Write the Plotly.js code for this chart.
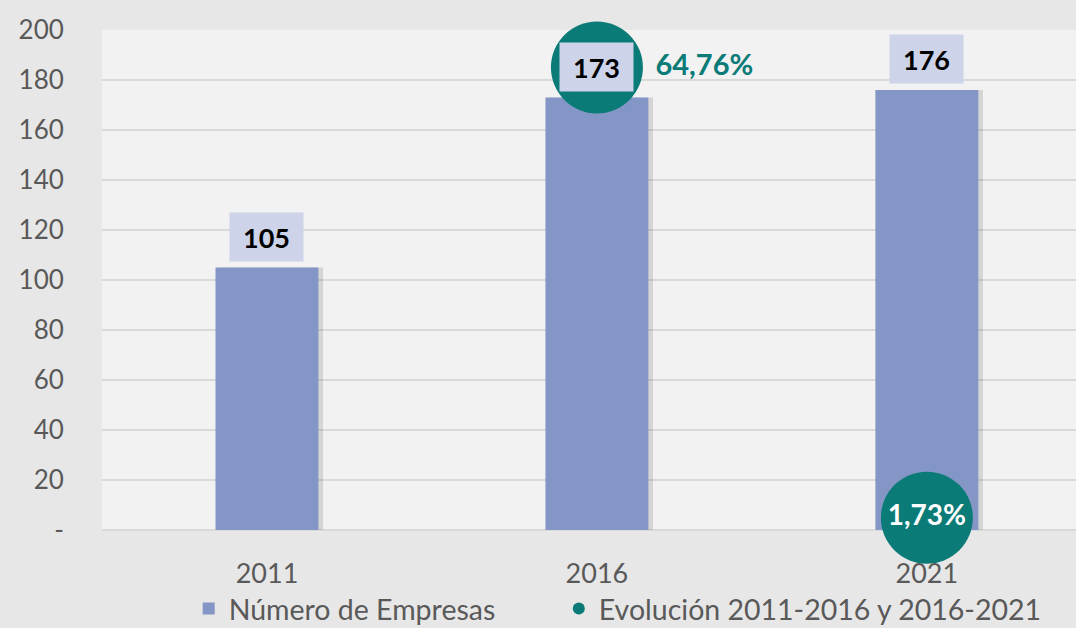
<!DOCTYPE html>
<html>
<head>
<meta charset="utf-8">
<script src="https://cdn.plot.ly/plotly-3.0.1.min.js"></script>
<style>html,body{margin:0;padding:0;background:#e7e7e7;}#chart{width:1076px;height:628px;}</style>
</head>
<body>
<div id="chart"></div>
<script>
const years = ['2011', '2016', '2021'];
const empresas = [105, 173, 176];
const evolYears = ['2016', '2021'];
const evolucion = [64.76, 1.73];
const evolLabels = ['64,76%', '1,73%'];
const yTickVals = [0, 20, 40, 60, 80, 100, 120, 140, 160, 180, 200];
const yTickText = ['-', '20', '40', '60', '80', '100', '120', '140', '160', '180', '200'];

const FONT = 'Lato, "Open Sans", sans-serif';
const barColor = '#8496c5';
const teal = '#0b7b78';
const barW = 0.312;

const shadow = {
  type: 'bar', x: years, y: empresas, width: barW, offset: -barW / 2 + 0.014,
  marker: {color: 'rgba(60,60,60,0.16)'}, showlegend: false, hoverinfo: 'skip'
};
const bars = {
  type: 'bar', name: 'Número de Empresas', x: years, y: empresas, width: barW, offset: -barW / 2,
  marker: {color: barColor}, legend: 'legend'
};
const evol = {
  type: 'scatter', mode: 'markers+text', name: 'Evolución 2011-2016 y 2016-2021',
  x: evolYears, y: evolucion, yaxis: 'y2', cliponaxis: false,
  marker: {color: teal, size: 92},
  text: evolLabels,
  textposition: ['middle right', 'middle center'],
  textfont: {family: FONT, size: [29, 28], color: [teal, '#ffffff'], weight: 'bold'},
  legend: 'legend2'
};

const annotations = years.map((yr, i) => ({
  x: i, y: empresas[i], xref: 'x', yref: 'y', yshift: 31,
  text: '<b>' + empresas[i] + '</b>', showarrow: false,
  width: 73, height: 48, bgcolor: '#cdd3e8', borderpad: 0,
  font: {family: FONT, size: 27, color: '#000000'}
}));

const legendBase = {
  orientation: 'h', xanchor: 'left', y: -0.158, yanchor: 'middle',
  font: {family: FONT, size: 28.5, color: '#595959'}, itemsizing: 'constant',
  bgcolor: 'rgba(0,0,0,0)'
};

const layout = {
  width: 1076, height: 628,
  margin: {l: 102, r: 0, t: 30, b: 98, autoexpand: false},
  paper_bgcolor: '#e7e7e7', plot_bgcolor: '#f2f2f2',
  barmode: 'overlay',
  font: {family: FONT, color: '#595959', size: 26},
  xaxis: {
    type: 'category', range: [-0.5, 2.452], showgrid: false, zeroline: false,
    ticks: 'outside', ticklen: 20, tickcolor: 'rgba(0,0,0,0)',
    tickfont: {family: FONT, size: 27, color: '#595959'}
  },
  yaxis: {
    range: [0, 200], tickvals: yTickVals, ticktext: yTickText,
    showgrid: true, gridcolor: '#d9d9d9', gridwidth: 2, zeroline: true, zerolinecolor: '#d9d9d9', zerolinewidth: 2,
    ticks: 'outside', ticklen: 32, tickcolor: 'rgba(0,0,0,0)',
    tickfont: {family: FONT, size: 26, color: '#595959'}
  },
  yaxis2: {range: [0, 70], overlaying: 'y', side: 'right', visible: false},
  legend: Object.assign({}, legendBase, {x: 0.089}),
  legend2: Object.assign({}, legendBase, {x: 0.469}),
  annotations: annotations,
  showlegend: true
};

Plotly.newPlot('chart', [shadow, bars, evol], layout, {displayModeBar: false, staticPlot: true});
</script>
</body>
</html>
